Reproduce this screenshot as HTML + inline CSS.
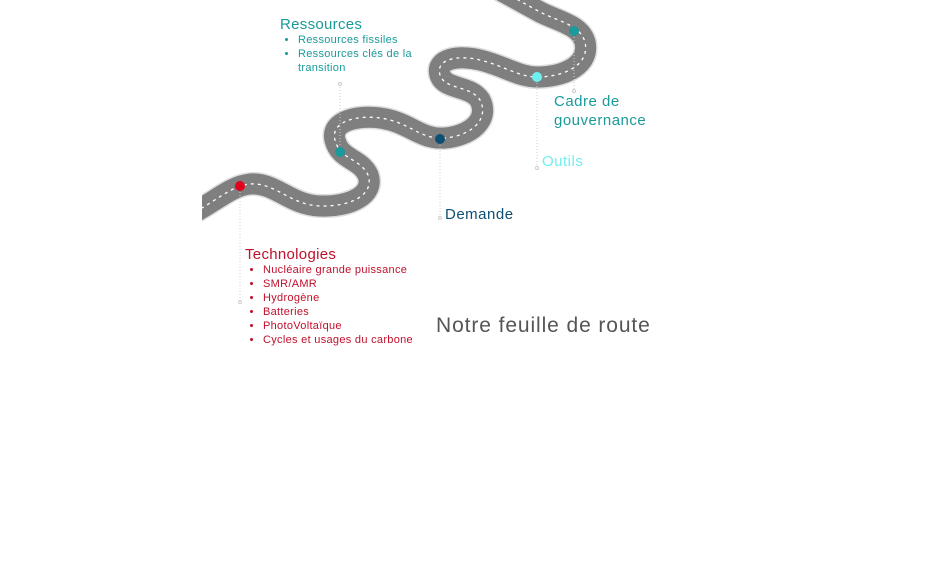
<!DOCTYPE html>
<html><head><meta charset="utf-8"><style>
body{margin:0;width:950px;height:576px;background:#fff;overflow:hidden;position:relative;font-family:"Liberation Sans",sans-serif}
.t{position:absolute;white-space:nowrap}
ul{margin:0;padding-left:18px}
li{font-size:11px;line-height:14px;letter-spacing:0.3px}
</style></head><body>
<svg width="950" height="576" style="position:absolute;left:0;top:0">
<defs><clipPath id="c"><rect x="202" y="0" width="748" height="576"/></clipPath></defs>
<g clip-path="url(#c)" fill="none">
<path d="M 195 212 C 220 198, 232 186, 250 184 C 275 182, 290 205, 320 206 C 350 207, 375 195, 368 175 C 360 158, 340 160, 335 140 C 330 120, 360 115, 380 118 C 410 122, 420 140, 445 138 C 470 136, 490 120, 480 100 C 470 85, 445 90, 440 75 C 435 58, 460 55, 480 60 C 505 66, 520 78, 540 77 C 565 76, 590 65, 585 42 C 580 25, 560 22, 540 12 L 500 -10" stroke="#ddd" stroke-width="24"/>
<path d="M 195 212 C 220 198, 232 186, 250 184 C 275 182, 290 205, 320 206 C 350 207, 375 195, 368 175 C 360 158, 340 160, 335 140 C 330 120, 360 115, 380 118 C 410 122, 420 140, 445 138 C 470 136, 490 120, 480 100 C 470 85, 445 90, 440 75 C 435 58, 460 55, 480 60 C 505 66, 520 78, 540 77 C 565 76, 590 65, 585 42 C 580 25, 560 22, 540 12 L 500 -10" stroke="#7f7f7f" stroke-width="21"/>
<path d="M 195 212 C 220 198, 232 186, 250 184 C 275 182, 290 205, 320 206 C 350 207, 375 195, 368 175 C 360 158, 340 160, 335 140 C 330 120, 360 115, 380 118 C 410 122, 420 140, 445 138 C 470 136, 490 120, 480 100 C 470 85, 445 90, 440 75 C 435 58, 460 55, 480 60 C 505 66, 520 78, 540 77 C 565 76, 590 65, 585 42 C 580 25, 560 22, 540 12 L 500 -10" stroke="#fff" stroke-width="1.3" stroke-dasharray="3 4"/>
</g>
<g stroke="#ccc" stroke-width="1" stroke-dasharray="1 2">
<line x1="240" y1="186" x2="240" y2="302"/>
<line x1="340" y1="84" x2="340" y2="152"/>
<line x1="440" y1="139" x2="440" y2="218"/>
<line x1="537" y1="77" x2="537" y2="168"/>
<line x1="574" y1="31" x2="574" y2="91"/>
</g>
<g fill="#fff" stroke="#ccc"><circle cx="240" cy="302" r="1.5"/><circle cx="340" cy="84" r="1.5"/><circle cx="440" cy="218" r="1.5"/><circle cx="537" cy="168" r="1.5"/><circle cx="574" cy="91" r="1.5"/></g>
<circle cx="240" cy="186" r="5" fill="#e3001b"/>
<circle cx="340" cy="152" r="5" fill="#1a9a9a"/>
<circle cx="440" cy="139" r="5" fill="#0d4f73"/>
<circle cx="537" cy="77" r="5" fill="#6ff0f0"/>
<circle cx="574" cy="31" r="5" fill="#1a9a9a"/>
</svg>
<div class="t" style="left:280px;top:16px;color:#1a9a9a"><div style="font-size:15px;letter-spacing:0.3px">Ressources</div>
<ul style="padding-left:18px"><li>Ressources fissiles</li><li>Ressources clés de la<br>transition</li></ul></div>
<div class="t" style="left:554px;top:92px;color:#1a9a9a;font-size:15px;line-height:19px;letter-spacing:0.5px">Cadre de<br>gouvernance</div>
<div class="t" style="left:542px;top:153px;color:#6ff0f0;font-size:15px;letter-spacing:0.5px">Outils</div>
<div class="t" style="left:445px;top:206px;color:#0d4f73;font-size:15px;letter-spacing:0.5px">Demande</div>
<div class="t" style="left:245px;top:246px;color:#c0102b"><div style="font-size:15px;letter-spacing:0.3px">Technologies</div>
<ul><li>Nucléaire grande puissance</li><li>SMR/AMR</li><li>Hydrogène</li><li>Batteries</li><li>PhotoVoltaïque</li><li>Cycles et usages du carbone</li></ul></div>
<div class="t" style="left:436px;top:314px;color:#555;font-size:21px;letter-spacing:0.9px">Notre feuille de route</div>
</body></html>
